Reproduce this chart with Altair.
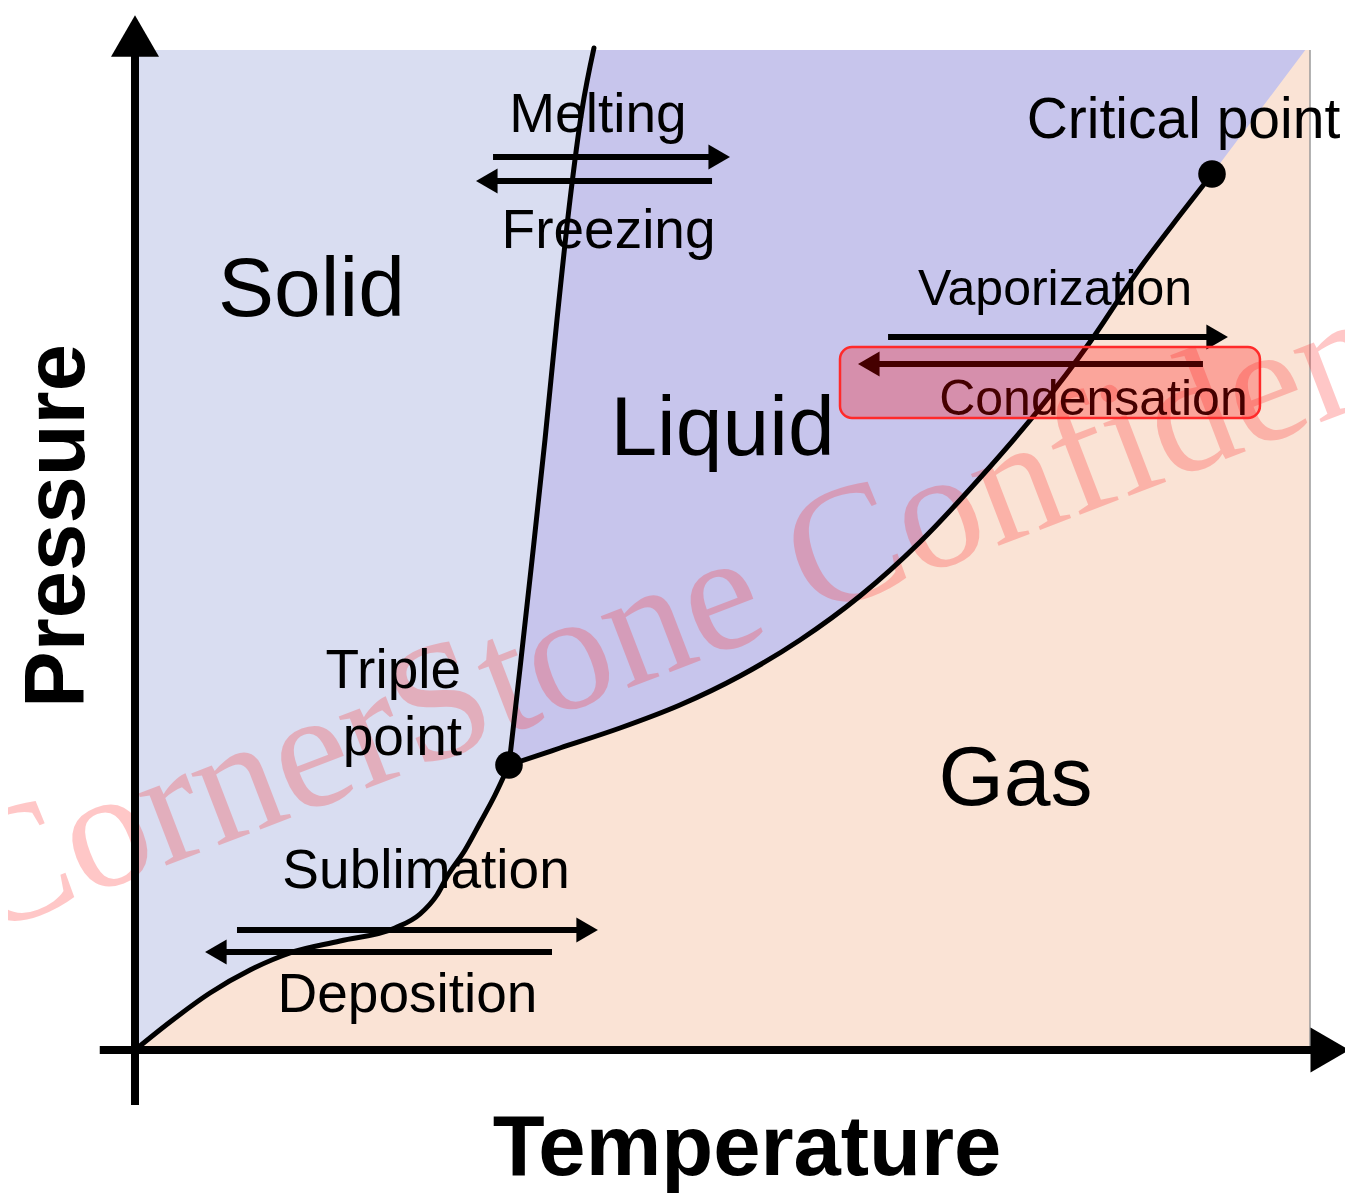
import altair as alt
import pandas as pd

# ---------------- data (Temperature / Pressure in arbitrary units, plot spans 0..100) -------------
sub_T = [0.0, 2.98, 6.38, 9.79, 13.19, 17.45, 22.13, 24.26, 25.70, 26.64, 28.09, 29.36, 30.64, 31.83]
sub_P = [0.0, 2.8, 5.7, 8.0, 9.7, 10.9, 12.2, 13.6, 15.5, 17.5, 20.0, 22.7, 25.5, 28.5]

vap_T = [31.83, 36.17, 41.28, 46.38, 51.49, 56.60, 61.70, 66.81, 71.91, 77.02, 81.28, 85.53, 88.94, 91.66]
vap_P = [28.5, 30.2, 32.2, 34.5, 37.4, 41.0, 45.4, 50.8, 57.2, 64.2, 70.8, 78.2, 83.5, 87.6]

melt_T = [31.83, 32.77, 33.79, 34.89, 35.91, 37.02, 38.04, 39.06]
melt_P = [28.5, 38.2, 49.0, 61.0, 73.0, 85.0, 94.0, 100.2]

# gas boundary continues from the critical point to the top-right corner
ext_T = [99.6, 100.0]
ext_P = [100.0, 100.0]

special_names = ["Triple point", "Critical point"]
special_T = [31.83, 91.66]
special_P = [28.5, 87.6]

arrow_names = ["Melting", "Freezing", "Vaporization", "Condensation", "Sublimation", "Deposition"]
arrow_P = [89.3, 86.9, 71.3, 68.6, 12.0, 9.8]
arrow_start = [30.47, 49.11, 64.09, 90.89, 8.68, 35.49]
arrow_tip = [50.64, 29.02, 93.02, 61.53, 39.40, 5.96]

proc_labels = ["Melting", "Freezing", "Sublimation", "Deposition"]
proc_T = [39.40, 40.30, 24.77, 23.19]
proc_P = [91.8, 80.2, 16.2, 3.8]

vap_labels = ["Vaporization", "Condensation"]
vap_lab_T = [78.30, 81.57]
vap_lab_P = [74.5, 63.5]

phase_labels = ["Solid", "Liquid", "Gas"]
phase_T = [15.02, 50.0, 74.94]
phase_P = [73.4, 59.5, 24.5]

triple_lines = ["Triple", "point"]
triple_T = [27.75, 27.83]
triple_P = [36.2, 29.5]

crit_label = ["Critical point"]
crit_T = [89.23]
crit_P = [91.2]

box_T = [60.0, 95.74]
box_P = [63.2, 70.3]

watermark = ["CornerStone Confidential"]
wm_T = [-13.2]
wm_P = [11.3]

# ---------------- scales ----------------
SX = alt.Scale(domain=[0, 100], range=[127, 1302])
SY = alt.Scale(domain=[0, 100], range=[1042, 42])


def X(f):
    return alt.X(f, type="quantitative", scale=SX, axis=None)


def Y(f):
    return alt.Y(f, type="quantitative", scale=SY, axis=None)


SOLID = "#d9ddf1"
LIQUID = "#c7c5ec"
GAS = "#fae3d5"

# ---------------- regions ----------------
bg = alt.Chart(pd.DataFrame({"T0": [0.0], "T1": [100.0], "P0": [0.0], "P1": [100.0]})).mark_rect(
    color=LIQUID
).encode(x=X("T0"), x2="T1:Q", y=Y("P0"), y2="P1:Q")

solid_T = sub_T + melt_T[1:]
solid_P = sub_P + [min(p, 100.0) for p in melt_P[1:]]
solid_df = pd.DataFrame({"T": solid_T, "P": solid_P, "T0": [0.0] * len(solid_T)})
solid = alt.Chart(solid_df).mark_area(orient="horizontal", color=SOLID).encode(
    y=Y("P"), x=X("T"), x2="T0:Q"
)

gas_T = sub_T + vap_T[1:] + ext_T
gas_P = sub_P + vap_P[1:] + ext_P
gas_df = pd.DataFrame({"T": gas_T, "P": gas_P, "P0": [0.0] * len(gas_T)})
gas = alt.Chart(gas_df).mark_area(color=GAS).encode(x=X("T"), y=Y("P"), y2="P0:Q")

edge = alt.Chart(pd.DataFrame({"T": [100.0], "P0": [0.0], "P1": [100.0]})).mark_rule(
    color="#9a9a9a", strokeWidth=1.5
).encode(x=X("T"), y=Y("P0"), y2="P1:Q")

# ---------------- watermark (behind the drawing) ----------------
wm = alt.Chart(pd.DataFrame({"label": watermark, "T": wm_T, "P": wm_P})).mark_text(
    font="Liberation Serif", fontSize=168, align="left", baseline="alphabetic",
    color="#ff2a2a", opacity=0.26, angle=339
).encode(x=X("T"), y=Y("P"), text="label:N")

# ---------------- phase boundary curves ----------------
rows = []
for name, ts, ps in [("sub", sub_T, sub_P), ("vap", vap_T, vap_P), ("melt", melt_T, melt_P)]:
    for i, (t, p) in enumerate(zip(ts, ps)):
        rows.append({"curve": name, "i": i, "T": t, "P": p})
curves = alt.Chart(pd.DataFrame(rows)).mark_line(
    color="black", strokeWidth=5, interpolate="monotone", strokeCap="round"
).encode(x=X("T"), y=Y("P"), detail="curve:N", order="i:Q")

dots = alt.Chart(pd.DataFrame({"name": special_names, "T": special_T, "P": special_P})).mark_point(
    shape="circle", filled=True, color="black", opacity=1, size=760
).encode(x=X("T"), y=Y("P"))

# ---------------- process arrows ----------------
HEAD = 0.92
adf = pd.DataFrame({"name": arrow_names, "P": arrow_P, "start": arrow_start, "tip": arrow_tip})
adf["dir"] = [1 if t > s else -1 for s, t in zip(adf["start"], adf["tip"])]
adf["head"] = adf["tip"] - adf["dir"] * HEAD
adf["shape"] = ["triangle-right" if d > 0 else "triangle-left" for d in adf["dir"]]

shafts = alt.Chart(adf).mark_rule(color="black", strokeWidth=6).encode(
    x=X("start"), x2="head:Q", y=Y("P")
)
heads = alt.Chart(adf).mark_point(filled=True, color="black", opacity=1, size=620).encode(
    x=X("head"), y=Y("P"), shape=alt.Shape("shape:N", scale=None)
)

# ---------------- axes (drawn as arrows) ----------------
yaxis = alt.Chart(pd.DataFrame({"T": [0.0], "P0": [-5.5], "P1": [99.5]})).mark_rule(
    color="black", strokeWidth=8
).encode(x=X("T"), y=Y("P0"), y2="P1:Q")
xaxis = alt.Chart(pd.DataFrame({"P": [0.0], "T0": [-3.0], "T1": [100.5]})).mark_rule(
    color="black", strokeWidth=8
).encode(y=Y("P"), x=X("T0"), x2="T1:Q")
yhead = alt.Chart(pd.DataFrame({"T": [0.0], "P": [101.4]})).mark_point(
    shape="triangle-up", filled=True, color="black", opacity=1, size=2304
).encode(x=X("T"), y=Y("P"))
xhead = alt.Chart(pd.DataFrame({"T": [101.7], "P": [0.0]})).mark_point(
    shape="triangle-right", filled=True, color="black", opacity=1, size=2025
).encode(x=X("T"), y=Y("P"))


# ---------------- text ----------------
def texts(labels, ts, ps, size, align="center", bold=False, angle=0, font="Liberation Sans"):
    df = pd.DataFrame({"label": labels, "T": ts, "P": ps})
    kw = dict(font=font, fontSize=size, align=align, baseline="alphabetic", color="black")
    if bold:
        kw["fontWeight"] = "bold"
    if angle:
        kw["angle"] = angle
    return alt.Chart(df).mark_text(**kw).encode(x=X("T"), y=Y("P"), text="label:N")


t_proc = texts(proc_labels, proc_T, proc_P, 55)
t_vap = texts(vap_labels, vap_lab_T, vap_lab_P, 50)
t_phase = texts(phase_labels, phase_T, phase_P, 84)
t_triple = texts(triple_lines, triple_T, triple_P, 55, align="right")
t_crit = texts(crit_label, crit_T, crit_P, 57)
t_xtitle = texts(["Temperature"], [52.09], [-12.45], 85, bold=True)
t_ytitle = texts(["Pressure"], [-4.34], [52.4], 85, bold=True, angle=270)

# ---------------- highlight box ----------------
box = alt.Chart(pd.DataFrame({"T0": [box_T[0]], "T1": [box_T[1]], "P0": [box_P[0]], "P1": [box_P[1]]})).mark_rect(
    cornerRadius=12, fill="#ff0000", fillOpacity=0.27, stroke="#ff2a2a", strokeWidth=2.5
).encode(x=X("T0"), x2="T1:Q", y=Y("P0"), y2="P1:Q")

chart = alt.layer(
    bg, solid, gas, edge, wm, curves, dots, shafts, heads,
    yaxis, xaxis, yhead, xhead,
    t_proc, t_vap, t_phase, t_triple, t_crit, t_xtitle, t_ytitle,
    box,
).properties(
    width=1337, height=1185, padding=0, autosize=alt.AutoSizeParams(type="none")
).configure_view(stroke=None)

chart.save("out.html", embed_options={"renderer": "svg", "actions": False})
